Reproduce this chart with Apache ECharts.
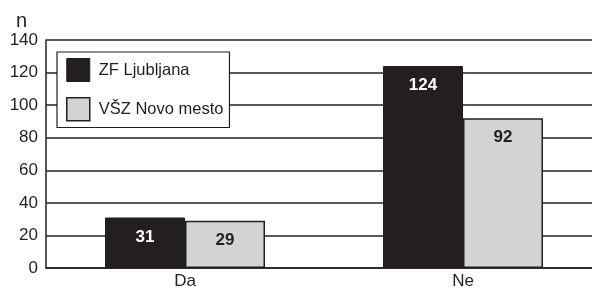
<!DOCTYPE html>
<html>
<head>
<meta charset="utf-8">
<script src="https://cdn.jsdelivr.net/npm/echarts@6/dist/echarts.min.js"></script>
<style>
  html, body { margin: 0; padding: 0; background: #fff; overflow: hidden; }
  #main { width: 602px; height: 290px; }
</style>
</head>
<body>
<div id="main"></div>
<script>
// podatki
var categories = ['Da', 'Ne'];
var seriesNames = ['ZF Ljubljana', 'VŠZ Novo mesto'];
var zfLjubljana = [31, 124];
var vszNovoMesto = [29, 92];

// graf je desno malo odrezan, zato je platno širše od okna
var myChart = echarts.init(document.getElementById('main'));
var font = 'Liberation Sans, Arial, sans-serif';

var option = {
    animation: false,
    textStyle: { fontFamily: font },
    grid: {
        left: 46,
        top: 40,
        right: 0,
        height: 228
    },
    legend: {
        left: 57,
        top: 52,
        orient: 'vertical',
        backgroundColor: '#fff',
        borderColor: '#231f20',
        borderWidth: 1.2,
        padding: [6, 6, 6, 9],
        itemWidth: 23,
        itemHeight: 23,
        itemGap: 15,
        icon: 'rect',
        textStyle: { color: '#231f20', fontSize: 16.5, fontFamily: font, padding: [0, 0, 0, 4] },
        data: [
            { name: seriesNames[0], itemStyle: { color: '#231f20', borderColor: '#231f20', borderWidth: 1 } },
            { name: seriesNames[1], itemStyle: { color: '#d1d3d4', borderColor: '#231f20', borderWidth: 1.5 } }
        ]
    },
    xAxis: {
        type: 'category',
        data: categories,
        axisLine: { lineStyle: { color: '#231f20', width: 1.5 } },
        axisTick: { show: false },
        axisLabel: { color: '#231f20', fontSize: 17, margin: 5 }
    },
    yAxis: {
        type: 'value',
        min: 0,
        max: 140,
        interval: 20,
        name: 'n',
        nameLocation: 'end',
        nameGap: 9,
        nameTextStyle: { color: '#231f20', fontSize: 20, align: 'right', padding: [0, 19, 0, 0] },
        axisLine: { show: true, lineStyle: { color: '#231f20', width: 1.5 } },
        axisTick: { show: false },
        axisLabel: { color: '#231f20', fontSize: 17, margin: 8 },
        splitLine: { lineStyle: { color: '#231f20', width: 1.5 } }
    },
    series: [
        {
            name: seriesNames[0],
            type: 'bar',
            data: zfLjubljana,
            barWidth: 80,
            barGap: '0%',
            itemStyle: { color: '#231f20', borderColor: '#231f20', borderWidth: 1 },
            label: {
                show: true,
                position: 'insideTop',
                distance: 11,
                color: '#fff',
                fontWeight: 'bold',
                fontSize: 17
            }
        },
        {
            name: seriesNames[1],
            type: 'bar',
            data: vszNovoMesto,
            barWidth: 80,
            itemStyle: { color: '#d1d3d4', borderColor: '#231f20', borderWidth: 1.5 },
            label: {
                show: true,
                position: 'insideTop',
                distance: 11,
                color: '#231f20',
                fontWeight: 'bold',
                fontSize: 17
            }
        }
    ]
};

myChart.setOption(option);
</script>
</body>
</html>
